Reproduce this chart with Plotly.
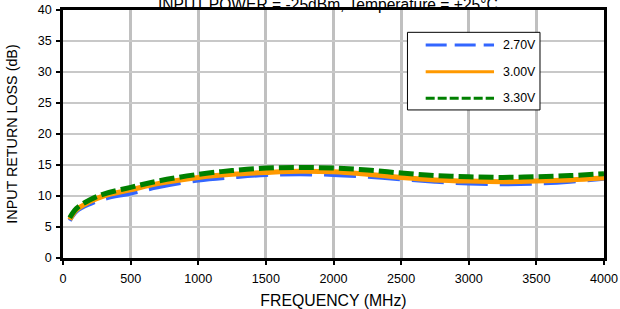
import plotly.graph_objects as go

freq = [50, 100, 200, 300, 500, 700, 1000, 1250, 1500, 1750, 2000, 2250, 2500, 2750, 3000, 3250, 3500, 3750, 4000]
rl_270 = [6.0, 7.5, 8.7, 9.5, 10.4, 11.4, 12.5, 13.0, 13.4, 13.5, 13.4, 13.1, 12.7, 12.3, 12.0, 11.9, 12.0, 12.3, 12.8]
rl_300 = [6.2, 7.8, 9.1, 10.0, 11.0, 12.0, 13.0, 13.5, 13.8, 14.0, 13.9, 13.5, 13.0, 12.6, 12.4, 12.3, 12.4, 12.6, 12.9]
rl_330 = [6.5, 8.0, 9.4, 10.3, 11.4, 12.4, 13.5, 14.1, 14.5, 14.6, 14.5, 14.2, 13.7, 13.3, 13.1, 13.0, 13.1, 13.3, 13.6]

series_names = ["2.70V", "3.00V", "3.30V"]
colors = ["#3366ff", "#ff9900", "#008000"]
dashes = ["32px,12px", "solid", "15px,5px"]
legend_dashes = ["21px,8px", "solid", "9px,3px"]
widths = [4, 5, 5]
x_ticks = [0, 500, 1000, 1500, 2000, 2500, 3000, 3500, 4000]
y_ticks = [0, 5, 10, 15, 20, 25, 30, 35, 40]

fig = go.Figure()
for name, ys, c, d, w in zip(series_names, [rl_270, rl_300, rl_330], colors, dashes, widths):
    fig.add_trace(go.Scatter(x=freq, y=ys, mode="lines", name=name,
                             line=dict(color=c, dash=d, width=w, shape="spline"),
                             showlegend=False))

font = "Liberation Sans, Arial, sans-serif"
fig.update_layout(
    width=620, height=309,
    margin=dict(l=63, r=16, t=10, b=51, autoexpand=False),
    paper_bgcolor="white", plot_bgcolor="white",
    font=dict(family=font, size=12.6, color="black"),
    xaxis=dict(range=[0, 4000], tickvals=x_ticks, showgrid=True, gridcolor="#c0c0c0", gridwidth=2.5,
               showline=True, linecolor="black", linewidth=2.5, mirror=True, automargin=False,
               ticks="outside", ticklen=4, tickcolor="black", tickwidth=2, ticklabelstandoff=3,
               title=dict(text="FREQUENCY (MHz)", font=dict(size=15.8), standoff=11), zeroline=False),
    yaxis=dict(range=[0, 40], tickvals=y_ticks, showgrid=True, gridcolor="#c8c8c8", gridwidth=1.5,
               showline=True, linecolor="black", linewidth=2.5, mirror=True, automargin=False,
               ticks="outside", ticklen=4, tickcolor="black", tickwidth=2, ticklabelstandoff=2,
               title=dict(text="INPUT RETURN LOSS (dB)", font=dict(size=14.3), standoff=17), zeroline=False),
)

fig.add_annotation(text="INPUT POWER = -25dBm, Temperature = +25°C", xref="paper", yref="paper",
                   x=0.49, y=1, xanchor="center", yanchor="bottom", yshift=-5, showarrow=False,
                   font=dict(size=15.6))

# custom legend
fig.add_shape(type="rect", xref="paper", yref="paper", x0=0.6367, x1=0.8817, y0=0.597, y1=0.910,
              line=dict(color="black", width=1), fillcolor="white", layer="above")
rows = [0.859, 0.751, 0.644]
for name, c, d, yy in zip(series_names, colors, legend_dashes, rows):
    fig.add_shape(type="line", xref="paper", yref="paper", x0=0.6704, x1=0.7967, y0=yy, y1=yy,
                  line=dict(color=c, dash=d, width=3), layer="above")
    fig.add_annotation(text=name, xref="paper", yref="paper", x=0.8096, y=yy, xanchor="left",
                       yanchor="middle", showarrow=False, font=dict(size=12.4))

fig.write_html("out.html", config={"displayModeBar": False},
               post_script="document.body.style.margin='0';document.body.style.overflow='hidden';")
